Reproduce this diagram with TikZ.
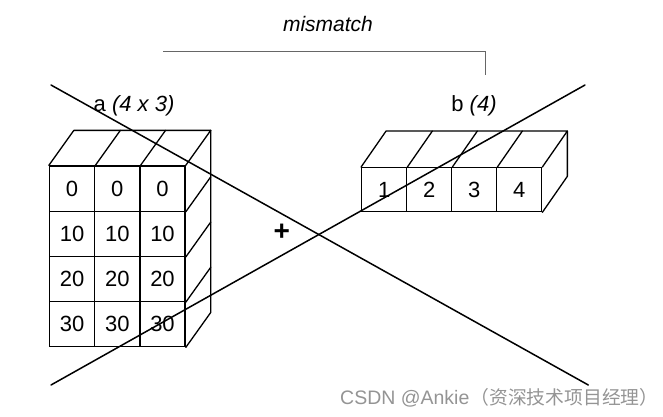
\documentclass[tikz,border=0pt]{standalone}
\usepackage{fontspec}
\usetikzlibrary{calc}
\setmainfont{Liberation Sans}
\newfontfamily\cjkfont{Noto Sans CJK SC}
\begin{document}
\begin{tikzpicture}[x=1pt,y=-1pt,
  edge/.style={line width=1.3pt,line join=round,line cap=round},
  cell/.style={draw,line width=1.3pt,minimum width=45.2pt,minimum height=45.2pt,inner sep=0pt,font=\fontsize{22}{24}\selectfont},
  bcell/.style={draw,line width=1.3pt,minimum width=45pt,minimum height=44pt,inner sep=0pt,font=\fontsize{22}{24}\selectfont},
  cross/.style={line width=1.5pt,line cap=round},
  lbl/.style={anchor=base,inner sep=0pt,font=\fontsize{22}{24}\selectfont}]
\useasboundingbox (0,0) rectangle (663,417);
% ---------- block a (4 x 3) ----------
\def\ax{49.5}\def\ay{166}\def\aw{45.2}
\foreach \r/\v in {0/0,1/10,2/20,3/30}{
  \foreach \c in {0,1,2}{
    \node[cell] (a-\r-\c) at ({\ax+(\c+0.5)*\aw},{\ay+(\r+0.5)*\aw}) {\v};
  }
}
% top face
\draw[edge] (a-0-0.north west) -- ++(25,-35) -- ($(a-0-2.north east)+(25,-35)$) -- (a-0-2.north east);
\foreach \c in {0,1}{\draw[edge] (a-0-\c.north east) -- ++(25,-35);}
% right face
\draw[edge] ($(a-0-2.north east)+(25,-35)$) -- ($(a-3-2.south east)+(25,-35)$) -- (a-3-2.south east);
\foreach \r in {0,1,2}{\draw[edge] (a-\r-2.south east) -- ++(25,-35);}
% ---------- block b (4) ----------
\def\bx{361.7}\def\by{167.7}
\foreach \c/\v in {0/1,1/2,2/3,3/4}{
  \node[bcell] (b-\c) at ({\bx+(\c+0.5)*45},{\by+22}) {\v};
}
\draw[edge] (b-0.north west) -- ++(25,-36) -- ($(b-3.north east)+(25,-36)$) -- (b-3.north east);
\foreach \c in {0,1,2}{\draw[edge] (b-\c.north east) -- ++(25,-36);}
\draw[edge] ($(b-3.north east)+(25,-36)$) -- ($(b-3.south east)+(25,-36)$) -- (b-3.south east);
% ---------- labels ----------
\node[lbl] (la) at (134,111.5) {a \textit{(4 x 3)}};
\node[lbl] (lb) at (474,112) {b \textit{(4)}};
\node[lbl,font=\fontsize{21}{23}\selectfont] (mm) at (328,31.7) {\textit{mismatch}};
\node[font=\fontsize{28}{30}\selectfont\bfseries,inner sep=0pt] (plus) at (281.7,232.7) {+};
% bracket
\coordinate (bl) at (163.3,51.7);
\coordinate (br) at (485.7,51.7);
\coordinate (bd) at (485.7,75);
\draw[line width=1.5pt,color=black!60] (bl) -- (br) -- (bd);
% ---------- crossing lines ----------
\coordinate (c1s) at (51,85);
\coordinate (c1e) at (588.3,385);
\coordinate (c2s) at (51,385);
\coordinate (c2e) at (585,85);
\draw[cross] (c1s) -- (c1e);
\draw[cross] (c2s) -- (c2e);
% ---------- watermark ----------
\node[anchor=base west,inner sep=0pt,text=black!42,font=\fontsize{19.5}{21}\selectfont] (wm) at (340,404.5) {CSDN @Ankie\hspace{1pt}{\cjkfont\fontsize{18.8}{20}\selectfont（资深技术项目经理）}};
\end{tikzpicture}
\end{document}
